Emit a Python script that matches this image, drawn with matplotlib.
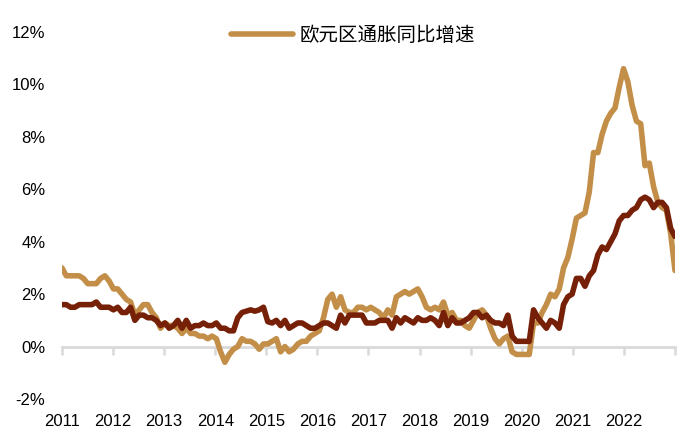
import matplotlib
matplotlib.use("Agg")
import matplotlib.pyplot as plt
import numpy as np

plt.rcParams['font.family'] = ['Liberation Sans', 'Noto Sans CJK SC', 'DejaVu Sans']

# Monthly data, Nov 2011 - Oct 2023 (yoy, %)
headline = [
    3.0, 2.7,
    2.7, 2.7, 2.7, 2.6, 2.4, 2.4, 2.4, 2.6, 2.7, 2.5, 2.2, 2.2,
    2.0, 1.8, 1.7, 1.2, 1.4, 1.6, 1.6, 1.3, 1.1, 0.7, 0.9, 0.8,
    0.8, 0.7, 0.5, 0.7, 0.5, 0.5, 0.4, 0.4, 0.3, 0.4, 0.3, -0.2,
    -0.6, -0.3, -0.1, 0.0, 0.3, 0.2, 0.2, 0.1, -0.1, 0.1, 0.1, 0.2,
    0.3, -0.2, 0.0, -0.2, -0.1, 0.1, 0.2, 0.2, 0.4, 0.5, 0.6, 1.1,
    1.8, 2.0, 1.5, 1.9, 1.4, 1.3, 1.3, 1.5, 1.5, 1.4, 1.5, 1.4,
    1.3, 1.1, 1.4, 1.2, 1.9, 2.0, 2.1, 2.0, 2.1, 2.2, 1.9, 1.5,
    1.4, 1.5, 1.4, 1.7, 1.2, 1.3, 1.0, 1.0, 0.8, 0.7, 1.0, 1.3,
    1.4, 1.2, 0.7, 0.3, 0.1, 0.3, 0.4, -0.2, -0.3, -0.3, -0.3, -0.3,
    0.9, 0.9, 1.3, 1.6, 2.0, 1.9, 2.2, 3.0, 3.4, 4.1, 4.9, 5.0,
    5.1, 5.9, 7.4, 7.4, 8.1, 8.6, 8.9, 9.1, 9.9, 10.6, 10.1, 9.2,
    8.6, 8.5, 6.9, 7.0, 6.1, 5.5, 5.3, 5.2, 4.3, 2.9,
]

core = [
    1.6, 1.6,
    1.5, 1.5, 1.6, 1.6, 1.6, 1.6, 1.7, 1.5, 1.5, 1.5, 1.4, 1.5,
    1.3, 1.3, 1.5, 1.0, 1.2, 1.2, 1.1, 1.1, 1.0, 0.8, 0.9, 0.7,
    0.8, 1.0, 0.7, 1.0, 0.7, 0.8, 0.8, 0.9, 0.8, 0.8, 0.9, 0.7,
    0.7, 0.6, 0.6, 1.1, 1.3, 1.35, 1.4, 1.35, 1.4, 1.5, 0.95, 0.9,
    1.0, 0.8, 1.0, 0.7, 0.8, 0.9, 0.9, 0.8, 0.7, 0.7, 0.8, 0.9,
    0.9, 0.8, 0.7, 1.2, 0.9, 1.2, 1.2, 1.2, 1.2, 0.9, 0.9, 0.9,
    1.0, 1.0, 1.0, 0.7, 1.1, 0.9, 1.1, 1.0, 0.9, 1.1, 1.0, 1.0,
    1.1, 1.0, 0.8, 1.3, 0.8, 1.1, 0.9, 0.9, 1.0, 1.1, 1.3, 1.3,
    1.1, 1.2, 1.0, 0.9, 0.9, 0.8, 1.2, 0.4, 0.2, 0.2, 0.2, 0.2,
    1.4, 1.1, 0.9, 0.7, 1.0, 0.9, 0.7, 1.6, 1.9, 2.0, 2.6, 2.6,
    2.3, 2.7, 2.9, 3.5, 3.8, 3.7, 4.0, 4.3, 4.8, 5.0, 5.0, 5.2,
    5.3, 5.6, 5.7, 5.6, 5.3, 5.5, 5.5, 5.3, 4.5, 4.2,
]

year_labels = ['2011', '2012', '2013', '2014', '2015', '2016',
               '2017', '2018', '2019', '2020', '2021', '2022']
legend_label = '欧元区通胀同比增速'

tan = '#C38F48'
dark = '#762008'
grey = '#D9D9D9'

x = np.arange(len(headline))

fig = plt.figure(figsize=(7, 4.42), dpi=100)
ax = fig.add_axes([62 / 700, 1 - 399 / 442, (675 - 62) / 700, (399 - 32) / 442])

tan_line, = ax.plot(x, headline, color=tan, lw=4, label=legend_label,
                    solid_joinstyle='round', solid_capstyle='round', zorder=3)
ax.plot(x, core, color=dark, lw=4, label='_nolegend_',
        solid_joinstyle='round', solid_capstyle='round', zorder=4)

ax.set_xlim(0, len(x) - 1)
ax.set_ylim(-2, 12)

ticks = np.linspace(0, len(x) - 1, 13)
ax.set_xticks(ticks)
ax.set_xticklabels(year_labels + [''])
ax.set_yticks(np.arange(-2, 13, 2))
ax.set_yticklabels([f'{v}%' for v in range(-2, 13, 2)])
ax.tick_params(axis='both', length=0, labelsize=12, colors='#000000')
ax.tick_params(axis='x', pad=11)
ax.tick_params(axis='y', pad=12)

for s in ax.spines.values():
    s.set_visible(False)

# zero axis line with tick marks (labels stay at the bottom)
zero = ax.secondary_xaxis(2 / 14)
zero.set_xticks(ticks)
zero.tick_params(axis='x', direction='out', length=6, width=1.8, color=grey,
                 labelbottom=False)
zero.spines['bottom'].set_color(grey)
zero.spines['bottom'].set_linewidth(2)

ax.legend(handles=[tan_line], loc='center', bbox_to_anchor=(353 / 700, 1 - 36 / 442),
          bbox_transform=fig.transFigure, frameon=False, fontsize=14,
          handlelength=3.2, handletextpad=0.3)

fig.savefig('out.png', dpi=100)
